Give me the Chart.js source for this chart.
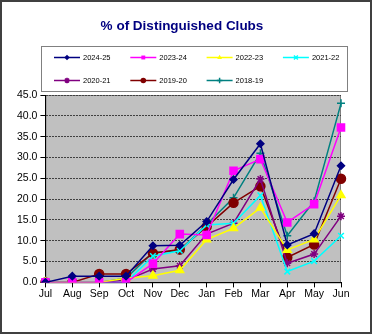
<!DOCTYPE html>
<html>
<head>
<meta charset="utf-8">
<script src="https://cdn.jsdelivr.net/npm/chart.js@4/dist/chart.umd.min.js"></script>
<style>
    html, body { margin: 0; padding: 0; background: #fff; }
    #wrap { width: 372px; height: 334px; position: relative; }
</style>
</head>
<body>
<div id="wrap"><canvas id="chart" width="372" height="334"></canvas></div>
<script>
// Data
const months = ['Jul', 'Aug', 'Sep', 'Oct', 'Nov', 'Dec', 'Jan', 'Feb', 'Mar', 'Apr', 'May', 'Jun'];
const y2024 = [0, 1.5, 1.5, 1.5, 8.8, 8.9, 14.6, 24.7, 33.3, 9.0, 11.7, 28.0];
const y2023 = [0, 0, 0, 0, 4.5, 11.6, 11.4, 26.8, 29.6, 14.4, 18.8, 37.2];
const y2022 = [0, 0, 0, 1.0, 1.6, 2.9, 10.3, 13.0, 17.9, 7.8, 10.3, 20.9];
const y2021 = [0, 0, 0, 0, 6.3, 7.6, 13.8, 14.2, 20.9, 2.6, 5.1, 11.2];
const y2020 = [0, 0, 0, 0.5, 3.2, 4.0, 11.6, 14.2, 24.8, 4.6, 6.8, 15.9];
const y2019 = [0, 0, 2.0, 2.0, 7.0, 7.9, 13.4, 19.1, 23.1, 6.0, 9.1, 24.9];
const y2018 = [0, 0, 0, 1.0, 7.2, 7.6, 13.9, 20.3, 31.0, 11.2, 19.5, 43.0];
const yTicks = [0, 5, 10, 15, 20, 25, 30, 35, 40, 45];

function series(label, data, color, style, radius) {
    return {
        label: label,
        data: data,
        borderColor: color,
        backgroundColor: color,
        pointBackgroundColor: color,
        pointBorderColor: color,
        pointStyle: style,
        pointRadius: radius,
        pointBorderWidth: 1.5,
        borderWidth: 1.5,
        tension: 0
    };
}

const datasets = [
    series('2024-25', y2024, '#000080', 'rectRot', 3.5),
    series('2023-24', y2023, '#FF00FF', 'rect', 5),
    series('2022-23', y2022, '#FFFF00', 'triangle', 4.5),
    series('2021-22', y2021, '#00FFFF', 'crossRot', 4),
    series('2020-21', y2020, '#800080', 'star', 4),
    series('2019-20', y2019, '#800000', 'circle', 4.5),
    series('2018-19', y2018, '#008080', 'cross', 4)
];

// small marker painter for the boxed legend
function drawMarker(ctx, style, x, y, r, color) {
    ctx.save();
    ctx.fillStyle = color;
    ctx.strokeStyle = color;
    ctx.lineWidth = 1.5;
    ctx.beginPath();
    if (style === 'rectRot') {
        ctx.moveTo(x, y - r); ctx.lineTo(x + r, y); ctx.lineTo(x, y + r); ctx.lineTo(x - r, y);
        ctx.closePath(); ctx.fill();
    } else if (style === 'rect') {
        ctx.rect(x - r * 0.7, y - r * 0.7, r * 1.4, r * 1.4); ctx.fill();
    } else if (style === 'triangle') {
        ctx.moveTo(x, y - r); ctx.lineTo(x + r * 0.87, y + r * 0.5); ctx.lineTo(x - r * 0.87, y + r * 0.5);
        ctx.closePath(); ctx.fill();
    } else if (style === 'circle') {
        ctx.arc(x, y, r, 0, Math.PI * 2); ctx.fill();
    } else {
        const d = r * 0.7;
        if (style === 'cross' || style === 'star') {
            ctx.moveTo(x - r, y); ctx.lineTo(x + r, y); ctx.moveTo(x, y - r); ctx.lineTo(x, y + r);
        }
        if (style === 'crossRot' || style === 'star') {
            ctx.moveTo(x - d, y - d); ctx.lineTo(x + d, y + d); ctx.moveTo(x + d, y - d); ctx.lineTo(x - d, y + d);
        }
        ctx.stroke();
    }
    ctx.restore();
}

const frame = {
    id: 'frame',
    beforeDraw(chart) {
        const ctx = chart.ctx;
        const a = chart.chartArea;
        ctx.save();
        ctx.fillStyle = '#fff';
        ctx.fillRect(0, 0, chart.width, chart.height);
        ctx.strokeStyle = '#404040';
        ctx.lineWidth = 2;
        ctx.strokeRect(1, 1, chart.width - 2, chart.height - 2);
        ctx.fillStyle = '#C0C0C0';
        ctx.fillRect(a.left, a.top, a.right - a.left, a.bottom - a.top);
        ctx.strokeStyle = '#808080';
        ctx.lineWidth = 1;
        ctx.strokeRect(a.left + 0.5, a.top + 0.5, a.right - a.left - 1, a.bottom - a.top);
        ctx.restore();
    },
    afterDraw(chart) {
        const ctx = chart.ctx;
        ctx.save();
        // title
        ctx.fillStyle = '#000080';
        ctx.font = 'bold 13.5px "Liberation Sans", Arial, sans-serif';
        ctx.textAlign = 'center';
        ctx.textBaseline = 'middle';
        ctx.fillText('% of Distinguished Clubs', 182, 26);
        // legend box
        ctx.fillStyle = '#fff';
        ctx.fillRect(41, 46, 307, 45);
        ctx.strokeStyle = '#808080';
        ctx.lineWidth = 1;
        ctx.strokeRect(41.5, 46.5, 306, 45);
        ctx.font = '7.5px "Liberation Sans", Arial, sans-serif';
        ctx.textAlign = 'left';
        chart.data.datasets.forEach((ds, i) => {
            const x = 54 + (i % 4) * 76.3;
            const y = 57.5 + Math.floor(i / 4) * 23;
            ctx.strokeStyle = ds.borderColor;
            ctx.lineWidth = 1.5;
            ctx.beginPath();
            ctx.moveTo(x, y);
            ctx.lineTo(x + 26, y);
            ctx.stroke();
            drawMarker(ctx, ds.pointStyle, x + 13, y, 2.8, ds.borderColor);
            ctx.fillStyle = '#000';
            ctx.fillText(ds.label, x + 29, y);
        });
        ctx.restore();
    }
};

new Chart(document.getElementById('chart'), {
    type: 'line',
    data: { labels: months, datasets: datasets },
    plugins: [frame],
    options: {
        responsive: false,
        animation: false,
        layout: { padding: { top: 95, left: 14, right: 31, bottom: 34 } },
        plugins: {
            legend: { display: false },
            title: { display: false },
            tooltip: { enabled: false }
        },
        scales: {
            x: {
                offset: false,
                grid: {
                    drawOnChartArea: false,
                    drawTicks: true,
                    tickLength: 5,
                    color: '#000'
                },
                border: { color: '#000', width: 1 },
                ticks: {
                    color: '#000',
                    padding: 0,
                    maxRotation: 0,
                    autoSkip: false,
                    font: { family: '"Liberation Sans", Arial, sans-serif', size: 10.5 }
                }
            },
            y: {
                min: 0,
                max: 45,
                afterBuildTicks: (axis) => { axis.ticks = yTicks.map(v => ({ value: v })); },
                grid: {
                    color: '#404040',
                    tickColor: '#000',
                    tickLength: 5,
                    tickBorderDash: []
                },
                border: { color: '#000', width: 1, dash: [2, 1] },
                ticks: {
                    color: '#000',
                    padding: 3,
                    callback: (v) => Number(v).toFixed(1),
                    font: { family: '"Liberation Sans", Arial, sans-serif', size: 10.5 }
                }
            }
        }
    }
});
</script>
</body>
</html>
